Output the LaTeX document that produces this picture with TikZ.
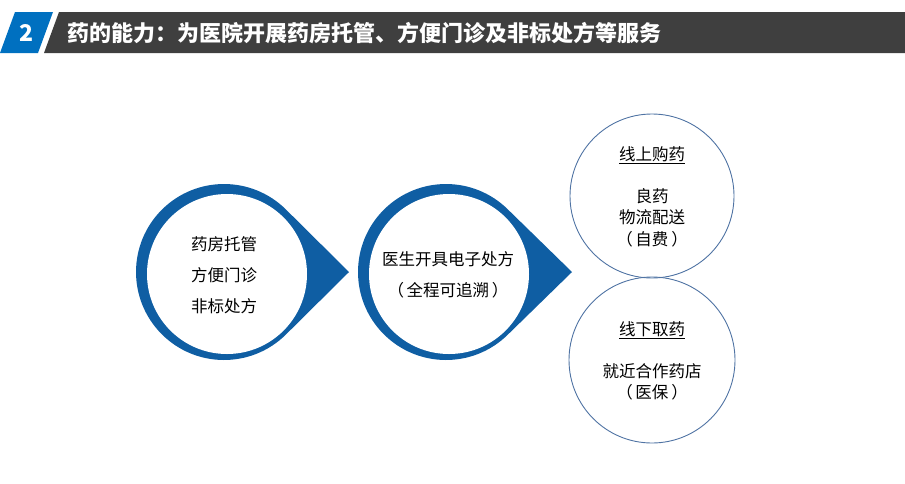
\documentclass[tikz,border=0pt]{standalone}
\usepackage{fontspec}
\usetikzlibrary{calc}
\setmainfont{Noto Sans CJK SC}
\begin{document}
\begin{tikzpicture}[x=1pt,y=-1pt,
  txt/.style={font=\fontsize{16.5}{19}\selectfont, text=black, inner sep=0pt},
  thin circ/.style={draw=lineblue, line width=0.9pt}]
\definecolor{ringblue}{HTML}{0F5EA3}
\definecolor{hdrblue}{HTML}{0070C0}
\definecolor{hdrgray}{HTML}{3F3F3F}
\definecolor{lineblue}{HTML}{4F73A3}
\useasboundingbox (0,0) rectangle (905,483);
% header
\fill[hdrblue] (15,12) -- (53,12) -- (38,53) -- (0,53) -- cycle;
\fill[hdrgray] (59,12) -- (905,12) -- (905,53) -- (44,53) -- cycle;
\node[font=\fontsize{23}{25}\selectfont\bfseries, text=white] (num) at (27,33) {2};
\node[font=\fontsize{22}{25}\selectfont\bfseries, text=white, anchor=west] (title) at (64,33) {药的能力：为医院开展药房托管、方便门诊及非标处方等服务};
% first teardrop
\fill[ringblue] (349,272) -- ($(224,272)+(45.3:88)$) arc[start angle=45.3,end angle=314.7,radius=88] -- cycle;
\fill[white] (227,274) circle[radius=80];
% second teardrop
\fill[ringblue] (572,272) -- ($(446,272)+(45.3:88)$) arc[start angle=45.3,end angle=314.7,radius=88] -- cycle;
\fill[white] (449,274) circle[radius=80];
\node[txt] (a1) at (224,244) {药房托管};
\node[txt] (a2) at (224,275) {方便门诊};
\node[txt] (a3) at (224,306) {非标处方};
\node[txt] (b1) at (448,259) {医生开具电子处方};
\node[txt] (b2) at (448,290) {（\,全程可追溯\,）};
% right circles
\node[thin circ, circle, minimum size=164pt, inner sep=0pt] (c1) at (652,196) {};
\node[thin circ, circle, minimum size=166pt, inner sep=0pt] (c2) at (652,360) {};
\node[txt] (c1a) at (652,155) {\underline{线上购药}};
\node[txt] (c1b) at (652,196) {良药};
\node[txt] (c1c) at (652,217) {物流配送};
\node[txt] (c1d) at (652,239) {（\,自费\,）};
\node[txt] (c2a) at (652,330) {\underline{线下取药}};
\node[txt] (c2b) at (652,371) {就近合作药店};
\node[txt] (c2c) at (652,392) {（\,医保\,）};
\end{tikzpicture}
\end{document}
